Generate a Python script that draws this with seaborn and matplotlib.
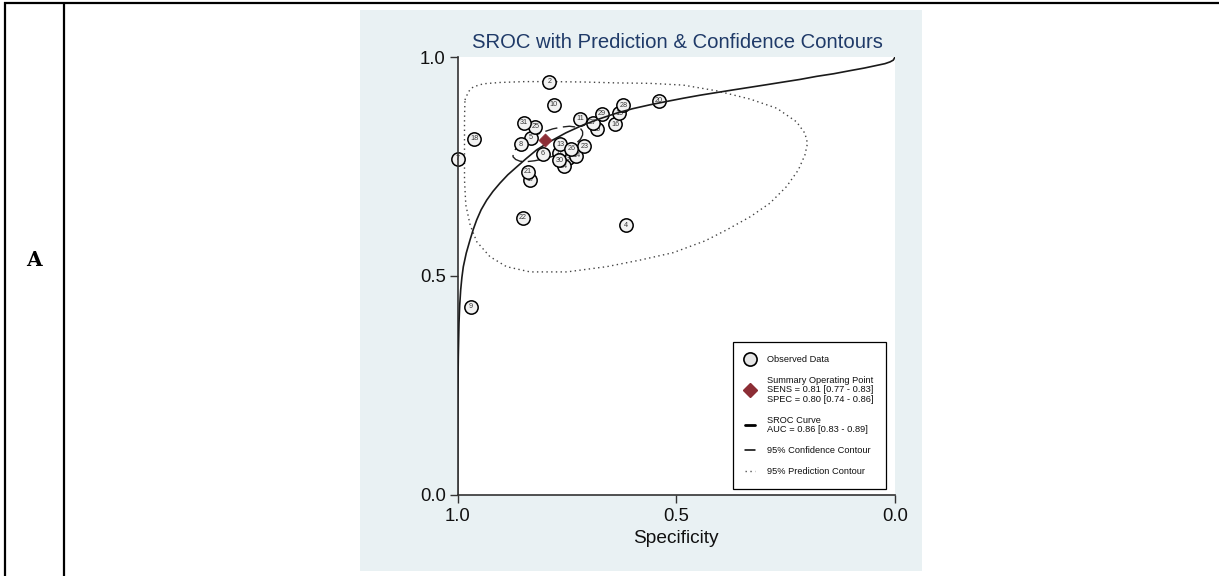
import matplotlib
matplotlib.use("Agg")
import matplotlib.pyplot as plt
from matplotlib.lines import Line2D
from matplotlib.patches import Rectangle
import pandas as pd
import seaborn as sns

# ---- study-level estimates (one circle per study) ----
study_id = [2, 3, 4, 5, 6, 7, 8, 9, 10, 11, 12, 13, 14, 15, 16, 17,
            18, 19, 20, 21, 22, 23, 24, 25, 26, 27, 28, 29, 30, 31]
study_spec = [0.790, 0.747, 0.615, 0.832, 0.805, 0.999, 0.856, 0.970, 0.780, 0.720,
              0.768, 0.765, 0.729, 0.682, 0.639, 0.834, 0.962, 0.630, 0.540, 0.840,
              0.850, 0.710, 0.756, 0.822, 0.740, 0.690, 0.621, 0.670, 0.767, 0.848]
study_sens = [0.944, 0.769, 0.616, 0.816, 0.779, 0.768, 0.801, 0.429, 0.891, 0.859,
              0.781, 0.801, 0.775, 0.835, 0.846, 0.720, 0.813, 0.872, 0.900, 0.738,
              0.633, 0.796, 0.750, 0.841, 0.791, 0.850, 0.890, 0.871, 0.764, 0.850]

# ---- pooled estimates ----
summary_sens, summary_sens_ci = 0.81, (0.77, 0.83)
summary_spec, summary_spec_ci = 0.80, (0.74, 0.86)
auc, auc_ci = 0.86, (0.83, 0.89)

# ---- SROC curve ----
sroc_spec = [1.000, 0.9998, 0.9993, 0.9982, 0.9966, 0.9950, 0.9927, 0.9900, 0.9867,
             0.9800, 0.9714, 0.9640, 0.9561, 0.9460, 0.9333, 0.9190, 0.9029, 0.8850,
             0.8647, 0.8430, 0.8190, 0.7886, 0.7520, 0.7125, 0.6750, 0.6361, 0.6000,
             0.5600, 0.5200, 0.4839, 0.4450, 0.4075, 0.3700, 0.3314, 0.2930, 0.2553,
             0.2170, 0.1790, 0.1400, 0.1029, 0.0700, 0.0418, 0.0230, 0.0114, 0.0040,
             0.000]
sroc_sens = [0.000, 0.102, 0.216, 0.315, 0.392, 0.432, 0.468, 0.496, 0.521,
             0.552, 0.582, 0.606, 0.628, 0.651, 0.673, 0.693, 0.712, 0.731,
             0.749, 0.768, 0.788, 0.807, 0.827, 0.845, 0.859, 0.872, 0.882,
             0.891, 0.899, 0.906, 0.913, 0.919, 0.925, 0.931, 0.937, 0.943,
             0.949, 0.956, 0.962, 0.969, 0.975, 0.981, 0.985, 0.989, 0.993,
             1.000]

# ---- 95% confidence contour around the summary point ----
conf_spec = [0.714, 0.714, 0.719, 0.730, 0.744, 0.763, 0.783, 0.804, 0.824, 0.842,
             0.857, 0.867, 0.873, 0.873, 0.867, 0.856, 0.842, 0.824, 0.803, 0.782,
             0.762, 0.744, 0.729, 0.719, 0.714]
conf_sens = [0.830, 0.822, 0.812, 0.802, 0.792, 0.782, 0.773, 0.767, 0.763, 0.761,
             0.762, 0.766, 0.772, 0.781, 0.790, 0.800, 0.811, 0.821, 0.829, 0.836,
             0.840, 0.842, 0.840, 0.837, 0.830]

# ---- 95% prediction contour ----
pred_spec = [0.983, 0.975, 0.964, 0.941, 0.903, 0.846, 0.789, 0.709, 0.636, 0.560,
             0.484, 0.408, 0.331, 0.270, 0.225, 0.206, 0.200, 0.206, 0.221, 0.248,
             0.286, 0.331, 0.385, 0.434, 0.507, 0.583, 0.659, 0.750, 0.834, 0.888,
             0.926, 0.956, 0.971, 0.981, 0.984, 0.984, 0.984, 0.983]
pred_sens = [0.902, 0.921, 0.932, 0.939, 0.942, 0.944, 0.944, 0.943, 0.941, 0.940,
             0.936, 0.923, 0.904, 0.883, 0.852, 0.826, 0.803, 0.776, 0.742, 0.704,
             0.666, 0.635, 0.605, 0.580, 0.553, 0.536, 0.521, 0.509, 0.509, 0.521,
             0.544, 0.578, 0.616, 0.662, 0.719, 0.788, 0.856, 0.902]

ticks = [0.0, 0.5, 1.0]
tick_labels = ["0.0", "0.5", "1.0"]

sns.set_style("ticks")
plt.rcParams["font.family"] = ["Liberation Sans", "DejaVu Sans"]

W, H = 1219, 576
fig = plt.figure(figsize=(W / 100, H / 100), dpi=100)
fig.patch.set_facecolor("white")

# light panel behind the graph
fig.add_artist(Rectangle((360 / W, 1 - 571 / H), (922 - 360) / W, (571 - 10) / H,
                         transform=fig.transFigure, facecolor="#e9f1f3",
                         edgecolor="none", zorder=-5))

# table rules: top border, left border, column divider
rule = dict(color="black", lw=1.6, solid_capstyle="butt", zorder=10)
fig.add_artist(Line2D([4 / W, 1.0], [1 - 2.8 / H, 1 - 2.8 / H], transform=fig.transFigure, **rule))
fig.add_artist(Line2D([5 / W, 5 / W], [0, 1 - 2 / H], transform=fig.transFigure, **rule))
fig.add_artist(Line2D([63.5 / W, 63.5 / W], [0, 1 - 2 / H], transform=fig.transFigure, **rule))
fig.text(34 / W, 1 - 260 / H, "A", ha="center", va="center", fontsize=14.5,
         fontweight="bold", family="DejaVu Serif", color="black")

ax = fig.add_axes([457.5 / W, 1 - 494.6 / H, 437.5 / W, 437.5 / H])
ax.set_facecolor("white")

dark = "#333333"
cranberry = "#8c2d35"

# prediction and confidence contours
sns.lineplot(x=pred_spec, y=pred_sens, sort=False, estimator=None, ax=ax,
             color="#444444", lw=1.0, linestyle=(0, (1, 2.4)), zorder=1.6, legend=False)
sns.lineplot(x=conf_spec, y=conf_sens, sort=False, estimator=None, ax=ax,
             color="#222222", lw=1.0, linestyle=(0, (9, 4)), zorder=1.7, legend=False)

# study circles with their numbers, drawn in study order
studies = pd.DataFrame({"id": study_id, "spec": study_spec, "sens": study_sens})
for i, row in studies.iterrows():
    z = 2.0 + i * 0.001
    sns.scatterplot(data=studies.iloc[[i]], x="spec", y="sens", ax=ax, marker="o",
                    s=92, color="#f2f2f2", edgecolor="black", linewidth=1.1,
                    zorder=z, clip_on=False, legend=False)
    ax.text(row["spec"], row["sens"], str(int(row["id"])), ha="center", va="center",
            fontsize=5.2, color="#383838", zorder=z + 0.0005, clip_on=False)

# SROC curve
sns.lineplot(x=sroc_spec, y=sroc_sens, sort=False, estimator=None, ax=ax,
             color="#1a1a1a", lw=1.2, zorder=3, legend=False)

# summary operating point
sns.scatterplot(x=[summary_spec], y=[summary_sens], ax=ax, marker="D", s=44,
                color=cranberry, edgecolor=cranberry, linewidth=0.5, zorder=4,
                clip_on=False, legend=False)

ax.set_xlim(1, 0)
ax.set_ylim(0, 1)
ax.set_xticks(ticks, tick_labels)
ax.set_yticks(ticks, tick_labels)
ax.tick_params(direction="out", length=5.5, width=1.0, color=dark,
               labelsize=13.3, labelcolor="#111111", pad=3)
ax.tick_params(axis="x", pad=4)
for side in ["top", "right"]:
    ax.spines[side].set_visible(False)
for side in ["left", "bottom"]:
    ax.spines[side].set_color(dark)
    ax.spines[side].set_linewidth(1.2)
    ax.spines[side].set_zorder(2.5)
ax.set_xlabel("Specificity", fontsize=13.8, color="#111111", labelpad=3.5)
ax.set_ylabel("")

fig.text(677 / W, 1 - 42 / H, "SROC with Prediction & Confidence Contours",
         ha="center", va="center", fontsize=14.6, color="#1f3a68")

handles = [
    Line2D([], [], ls="none", marker="o", ms=9.5, mfc="#e6e6e6", mec="black", mew=1.2),
    Line2D([], [], ls="none", marker="D", ms=7, mfc=cranberry, mec=cranberry),
    Line2D([], [], color="black", lw=2.0),
    Line2D([], [], color="black", lw=1.1),
    Line2D([], [], color="#555555", lw=1.0, ls=(0, (1, 2.5))),
]
labels = [
    "Observed Data",
    f"Summary Operating Point\nSENS = {summary_sens:.2f} [{summary_sens_ci[0]:.2f} - {summary_sens_ci[1]:.2f}]"
    f"\nSPEC = {summary_spec:.2f} [{summary_spec_ci[0]:.2f} - {summary_spec_ci[1]:.2f}]",
    f"SROC Curve\nAUC = {auc:.2f} [{auc_ci[0]:.2f} - {auc_ci[1]:.2f}]",
    "95% Confidence Contour",
    "95% Prediction Contour",
]
leg = ax.legend(handles, labels, loc="upper left", bbox_to_anchor=(0.6286, 0.3483),
                fontsize=6.7, frameon=True, fancybox=False, edgecolor="black",
                framealpha=1, borderpad=1.35, labelspacing=1.3, handlelength=1.1,
                handletextpad=1.3, borderaxespad=0)
leg.get_frame().set_linewidth(0.9)
for t in leg.get_texts():
    t.set_linespacing(1.05)
    t.set_color("#111111")
leg.set_zorder(5)

fig.savefig("out.png", dpi=100)
